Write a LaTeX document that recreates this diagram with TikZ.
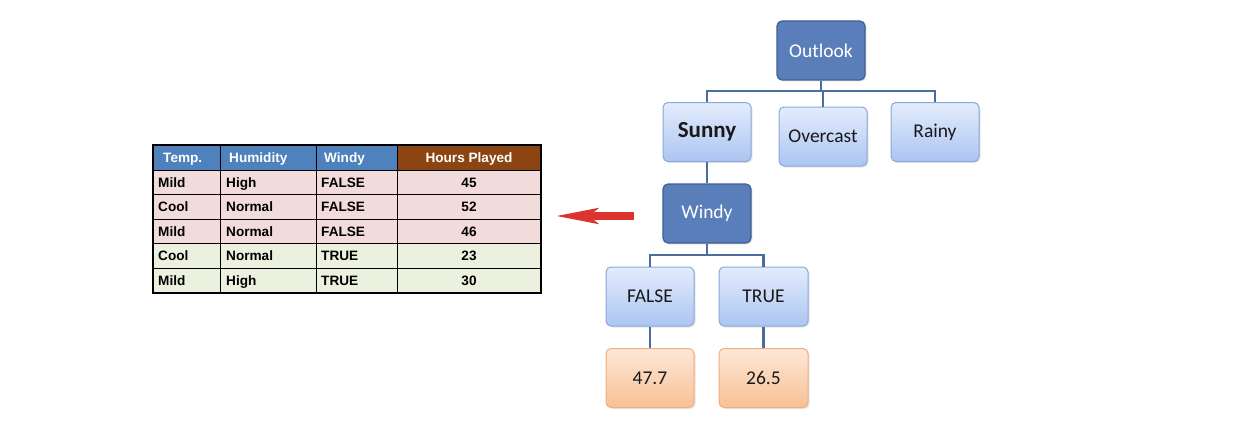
\documentclass[tikz,border=0pt]{standalone}
\usepackage{fontspec}
\setmainfont{Liberation Sans}
\newfontfamily\treefont{Carlito}
\usetikzlibrary{arrows.meta,shadows}

\definecolor{darkbox}{HTML}{5A7EB9}
\definecolor{darkedge}{HTML}{3F5F92}
\definecolor{lighttop}{HTML}{E4ECFC}
\definecolor{lightbot}{HTML}{ABC5F2}
\definecolor{lightedge}{HTML}{8AA8D6}
\definecolor{orangetop}{HTML}{FDE8D8}
\definecolor{orangebot}{HTML}{F8C095}
\definecolor{orangeedge}{HTML}{F0AE7C}
\definecolor{wire}{HTML}{4A6C9E}
\definecolor{headblue}{HTML}{4F81BD}
\definecolor{headbrown}{HTML}{8B4513}
\definecolor{rowpink}{HTML}{F2DCDB}
\definecolor{rowgreen}{HTML}{EBF1DE}
\definecolor{arrowred}{HTML}{DC3530}

\begin{document}
\begin{tikzpicture}[x=1pt,y=-1pt,
		treebox/.style={rounded corners=5pt, minimum width=88pt, minimum height=59pt, inner sep=0pt,
			font=\treefont\fontsize{19.5}{23}\selectfont,
			drop shadow={opacity=0.2, shadow xshift=1.5pt, shadow yshift=-1.5pt}},
		splitnode/.style={treebox, fill=darkbox, draw=darkedge, line width=1.2pt, text=white},
		valuenode/.style={treebox, top color=lighttop, bottom color=lightbot, draw=lightedge, line width=1pt, text=black!90},
		leafnode/.style={treebox, top color=orangetop, bottom color=orangebot, draw=orangeedge, line width=1pt, text=black!90},
		link/.style={draw=wire, line width=2.5pt},
		cell/.style={font=\fontsize{13.6}{15}\selectfont\bfseries, inner sep=0pt, text height=9.8pt, text depth=0pt, anchor=west}]
		\useasboundingbox (0,0) rectangle (1240,436);
		% tree
		\node [splitnode] (outlook) at (821,50.5) {Outlook};
		\node [valuenode, font=\treefont\fontsize{23}{27}\selectfont\bfseries] (sunny) at (707,132) {Sunny};
		\node [valuenode] (overcast) at (823,136.5) {Overcast};
		\node [valuenode] (rainy) at (935,132) {Rainy};
		\node [splitnode] (windy) at (707,213.5) {Windy};
		\node [valuenode] (false) at (650,296.5) {FALSE};
		\node [valuenode, minimum width=89pt] (true) at (763.5,296.5) {TRUE};
		\node [leafnode] (meanfalse) at (650,378) {47.7};
		\node [leafnode, minimum width=89pt] (meantrue) at (763.5,378) {26.5};
		\coordinate (outlookbar) at (821,91);
		\coordinate (windybar) at (707,255);
		\draw [link] (outlook.south) -- (outlookbar);
		\draw [link] (sunny.north) |- (outlookbar) -| (rainy.north);
		\draw [link] (overcast.north) -- (overcast.north |- outlookbar);
		\draw [link] (sunny.south) -- (windy.north);
		\draw [link] (windy.south) -- (windybar);
		\draw [link] (false.north) |- (windybar) -| (true.north);
		\draw [link] (false.south) -- (meanfalse.north);
		\draw [link] (true.south) -- (meantrue.north);
		% arrow to the table
		\coordinate (arrowtail) at (634,216);
		\coordinate (arrowtip) at (555,216);
		\draw [arrowred, line width=7.5pt, -{Stealth[length=42pt,width=15pt,inset=8pt]}] (arrowtail) -- (arrowtip);
		% table
		\fill [headblue] (153,145) rectangle (397,170);
		\fill [headbrown] (397,145) rectangle (541,170);
		\fill [rowpink] (153,170) rectangle (541,243.5);
		\fill [rowgreen] (153,243.5) rectangle (541,292.5);
		\foreach \y in {170,194.5,219,243.5,268}
			\draw [black, line width=1pt] (153,\y) -- (541,\y);
		\foreach \x in {220,316,397}
			\draw [black, line width=1pt] (\x,145) -- (\x,292.5);
		\draw [black, line width=2pt] (153,145) rectangle (541,292.5);
		\node [cell, text=white] (htemp) at (163,158) {Temp.};
		\node [cell, text=white] (hhumid) at (229,158) {Humidity};
		\node [cell, text=white] (hwindy) at (324,158) {Windy};
		\node [cell, text=white, anchor=center] (hhours) at (469,158) {Hours Played};
		\foreach \temp/\humid/\wind/\hours [count=\i] in {Mild/High/FALSE/45, Cool/Normal/FALSE/52, Mild/Normal/FALSE/46, Cool/Normal/TRUE/23, Mild/High/TRUE/30} {
			\node [cell] (temp\i) at (158,170+24.5*\i-12) {\temp};
			\node [cell] (humid\i) at (226,170+24.5*\i-12) {\humid};
			\node [cell] (wind\i) at (321,170+24.5*\i-12) {\wind};
			\node [cell, anchor=center] (hours\i) at (469,170+24.5*\i-12) {\hours};
		}
\end{tikzpicture}
\end{document}
